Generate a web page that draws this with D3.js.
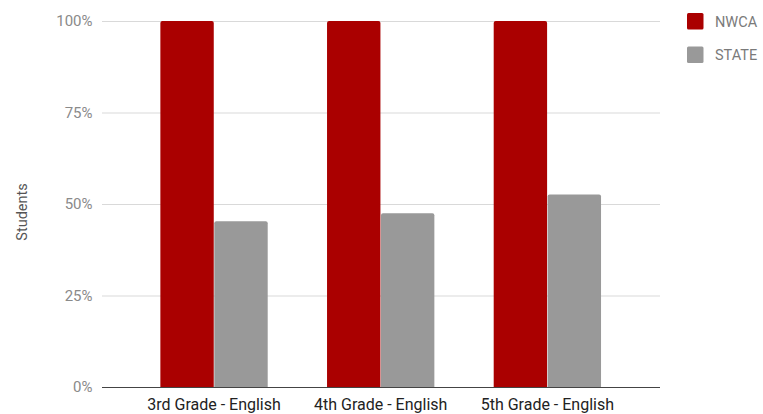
<!DOCTYPE html>
<html><head><meta charset="utf-8">
<script src="https://cdn.jsdelivr.net/npm/d3@7"></script>
<style>body{margin:0;background:#fff}svg{display:block;font-family:Roboto,Arial,sans-serif}</style>
</head><body><svg id="c" width="763" height="414"></svg>
<script>
const categories = ["3rd Grade - English", "4th Grade - English", "5th Grade - English"];
const seriesNames = ["NWCA", "STATE"];
const nwca = [100, 100, 100];
const state = [45.3, 47.5, 52.6];
const yTicks = [0, 25, 50, 75, 100];
const colors = ["#aa0000", "#999999"];

const svg = d3.select("#c");
const plot = {left: 102, right: 660, top: 21, bottom: 387};
const y = d3.scaleLinear().domain([0, 100]).range([plot.bottom, plot.top]);
const x = d3.scaleBand().domain(categories).range([130.7, 630.7]).paddingInner(0.356).paddingOuter(0.178);
const x1 = d3.scaleBand().domain(seriesNames).range([0, x.bandwidth()]).paddingInner(0.01);

// gridlines
svg.append("g").selectAll("line").data(yTicks.filter(d => d > 0)).join("line")
  .attr("x1", plot.left).attr("x2", plot.right)
  .attr("y1", d => y(d) + 0.5).attr("y2", d => y(d) + 0.5)
  .attr("stroke", "#d9d9d9").attr("stroke-width", 1);

// y tick labels
svg.append("g").selectAll("text").data(yTicks).join("text")
  .attr("x", 92.5).attr("y", d => y(d)).attr("dy", "0.35em")
  .attr("text-anchor", "end").attr("font-size", 15).attr("fill", "#8a8a8a")
  .text(d => d + "%");

// bars
const data = categories.map((c, i) => ({c, vals: [nwca[i], state[i]]}));
const r = 2;
function barPath(x0, w, yt, yb) {
  return `M${x0},${yb}V${yt + r}Q${x0},${yt} ${x0 + r},${yt}H${x0 + w - r}Q${x0 + w},${yt} ${x0 + w},${yt + r}V${yb}Z`;
}
const g = svg.append("g").selectAll("g").data(data).join("g")
  .attr("transform", d => `translate(${x(d.c)},0)`);
g.selectAll("path").data(d => d.vals.map((v, j) => ({v, s: seriesNames[j], j}))).join("path")
  .attr("d", d => barPath(x1(d.s), x1.bandwidth(), y(d.v), y(0)))
  .attr("fill", d => colors[d.j]);

// baseline
svg.append("line").attr("x1", plot.left).attr("x2", plot.right)
  .attr("y1", y(0) + 0.5).attr("y2", y(0) + 0.5).attr("stroke", "#444").attr("stroke-width", 1);

// x labels
svg.append("g").selectAll("text").data(categories).join("text")
  .attr("x", d => x(d) + x.bandwidth() / 2).attr("y", 410)
  .attr("text-anchor", "middle").attr("font-size", 16).attr("fill", "#222")
  .text(d => d);

// y axis title
svg.append("text").attr("transform", "translate(27,212) rotate(-90)")
  .attr("text-anchor", "middle").attr("font-size", 14.5).attr("fill", "#555")
  .text("Students");

// legend
const lg = svg.append("g").selectAll("g").data(seriesNames).join("g")
  .attr("transform", (d, i) => `translate(687,${13 + i * 33.5})`);
lg.append("rect").attr("width", 16.5).attr("height", 16.5).attr("rx", 1.5).attr("fill", (d, i) => colors[i]);
lg.append("text").attr("x", 28).attr("y", 8.5).attr("dy", "0.35em")
  .attr("font-size", 14.5).attr("fill", "#7a7a7a").text(d => d);
</script></body></html>
